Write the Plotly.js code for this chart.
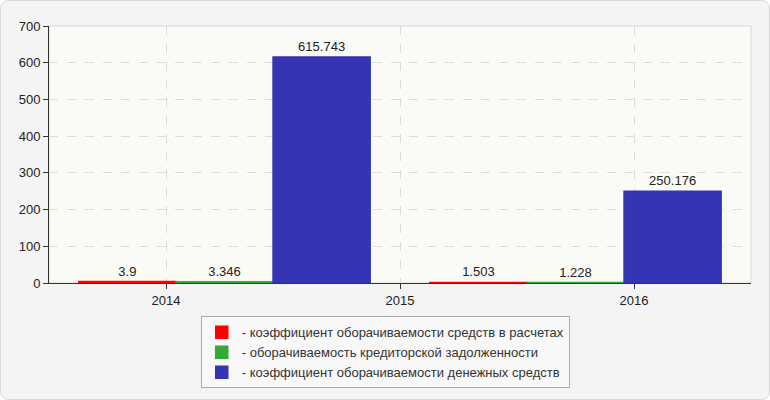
<!DOCTYPE html>
<html>
<head>
<meta charset="utf-8">
<script src="https://cdn.plot.ly/plotly-3.0.1.min.js"></script>
<style>
    body { margin: 0; }
    #frame {
        position: relative; width: 770px; height: 400px; box-sizing: border-box;
        background: #f4f4f4; border: 1px solid #dadada; border-radius: 8px;
    }
    #chart { position: absolute; left: 0; top: 0; width: 770px; height: 400px; }
</style>
</head>
<body>
<div id="frame"><div id="chart"></div></div>
<script>
// axis labels shown under the plot
let years = [2014, 2015, 2016];
// bar groups (drawn on a hidden category axis, two groups)
let groups = ['2014', '2016'];

let names = [
    '- коэффициент оборачиваемости средств в расчетах',
    '- оборачиваемость кредиторской задолженности',
    '- коэффициент оборачиваемости денежных средств'
];
let colors = ['#ff0000', '#33aa33', '#3535b3'];

let receivables = [3.9, 1.503];
let payables = [3.346, 1.228];
let cash = [615.743, 250.176];


function dataset() {
    let values = [receivables, payables, cash];
    let traces = [];

    // empty trace so the year axis gets drawn
    traces.push({
        type: 'scatter', mode: 'none',
        x: years, y: years.map(() => null),
        showlegend: false, hoverinfo: 'skip'
    });

    for (let i = 0; i < values.length; i++) {
        traces.push({
            type: 'bar',
            x: groups,
            y: values[i],
            name: names[i],
            xaxis: 'x2',
            marker: { color: colors[i], line: { color: colors[i], width: 1.5 } },
            text: values[i].map(v => String(v)),
            textposition: 'outside',
            textfont: { size: 13, color: '#222' },
            cliponaxis: false,
            hoverinfo: 'y+name'
        });
    }
    return traces;
}


function init() {
    let font = { family: '"Liberation Sans", Arial, sans-serif', size: 13, color: '#222' };
    let layout = {
        width: 770,
        height: 400,
        margin: { l: 48, r: 20, t: 25, b: 118 },
        paper_bgcolor: 'rgba(0,0,0,0)',
        plot_bgcolor: '#fafaf6',
        font: font,
        barmode: 'group',
        bargap: 0.17,
        bargroupgap: 0,
        showlegend: true,
        xaxis: {
            type: 'linear',
            range: [years[0] - 0.5, years[years.length - 1] + 0.5],
            tickvals: years,
            ticktext: years.map(String),
            ticks: 'outside', ticklen: 5, tickcolor: '#333',
            showgrid: true, gridcolor: '#dcdcdc', griddash: 'dash', gridwidth: 1,
            showline: true, linecolor: '#333', linewidth: 1,
            zeroline: false, fixedrange: true
        },
        xaxis2: {
            type: 'category',
            overlaying: 'x',
            range: [-0.5, groups.length - 0.5],
            visible: false, fixedrange: true
        },
        yaxis: {
            range: [0, 700],
            dtick: 100,
            ticks: 'outside', ticklen: 5, tickcolor: '#333',
            showgrid: true, gridcolor: '#dcdcdc', griddash: 'dash', gridwidth: 1,
            showline: true, linecolor: '#333', linewidth: 1,
            zeroline: false, fixedrange: true
        },
        shapes: [{
            type: 'rect', xref: 'paper', yref: 'paper', x0: 0, x1: 1, y0: 0, y1: 1,
            line: { color: '#d8d8d8', width: 1 }, layer: 'below'
        }],
        legend: {
            x: 0.479, xanchor: 'center',
            y: -0.13, yanchor: 'top',
            orientation: 'v',
            bgcolor: '#f8f8f8', bordercolor: '#aaaaaa', borderwidth: 1,
            font: { family: font.family, size: 13, color: '#333' },
            tracegroupgap: 2
        }
    };
    Plotly.newPlot('chart', dataset(), layout, { displayModeBar: false, staticPlot: true });
}

window.addEventListener('DOMContentLoaded', init);
</script>
</body>
</html>
